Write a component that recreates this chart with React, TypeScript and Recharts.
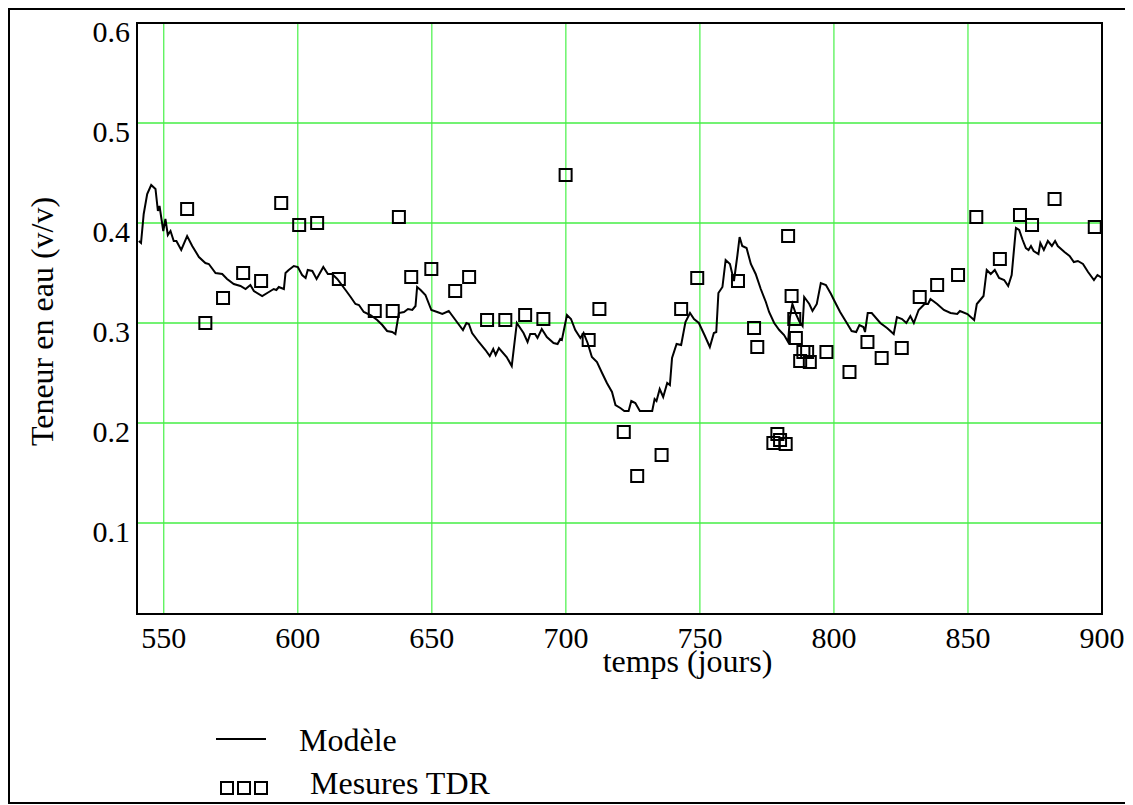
import React from "react";
import {
  ComposedChart,
  Line,
  Scatter,
  XAxis,
  YAxis,
  CartesianGrid,
  ReferenceArea,
  Label,
} from "recharts";

const modelDays = [
  540.7, 541.5, 542.5, 543.8, 545.3, 546.9, 547.8, 548.4, 549.8, 550.6, 551.5, 552.5, 553.7, 554.7, 556.5,
  558.7, 560.6, 563.1, 565.5, 566.8, 569.3, 571.8, 573.6, 576.1, 578.6, 580.5, 582.3, 583.6, 586.7, 589.2,
  591.0, 592.0, 592.9, 594.8, 595.4, 596.6, 598.5, 600.0, 601.6, 602.9, 603.7, 605.4, 607.0, 609.5, 611.2,
  612.8, 614.7, 617.8, 619.7, 621.5, 622.8, 624.6, 627.1, 629.6, 631.5, 633.3, 635.2, 636.4, 637.7, 639.6,
  641.1, 642.7, 643.9, 644.5, 645.8, 647.6, 649.8, 652.0, 653.9, 656.3, 658.8, 661.6, 662.9, 663.8, 665.0,
  667.5, 670.0, 671.6, 672.9, 673.8, 675.0, 677.9, 679.8, 681.7, 684.2, 685.7, 686.7, 688.5, 689.4, 691.0,
  692.9, 695.4, 696.9, 697.9, 698.5, 700.4, 701.9, 703.5, 705.4, 706.6, 708.1, 709.7, 711.6, 713.5, 715.3,
  717.2, 718.5, 720.3, 721.8, 723.4, 724.4, 725.9, 727.6, 732.2, 733.1, 733.8, 735.0, 736.3, 737.8, 738.8,
  739.6, 741.3, 743.0, 744.6, 746.3, 747.8, 749.6, 751.7, 753.7, 755.2, 756.1, 756.9, 758.4, 759.6, 761.2,
  762.7, 764.0, 764.8, 765.8, 767.4, 769.0, 770.8, 772.7, 774.6, 775.8, 777.7, 779.6, 781.4, 782.9, 783.6,
  784.5, 785.8, 787.0, 788.3, 788.9, 790.8, 792.0, 793.6, 795.1, 797.0, 798.9, 800.0, 802.3, 804.8, 806.6,
  808.3, 809.5, 811.0, 811.6, 812.6, 814.1, 817.3, 819.8, 822.3, 823.5, 825.4, 827.0, 828.5, 829.8, 831.6,
  833.8, 835.1, 836.0, 838.5, 841.0, 843.5, 846.0, 847.0, 849.8, 852.3, 853.3, 855.8, 857.0, 858.5, 860.0,
  861.6, 863.5, 865.0, 866.3, 867.9, 869.1, 870.4, 871.6, 872.6, 873.5, 874.5, 876.3, 877.0, 878.3, 879.8,
  881.3, 882.5, 883.5, 886.0, 887.9, 889.5, 891.0, 892.9, 894.8, 897.0, 898.3, 900.0,
];

const modelValues = [
  0.382, 0.38, 0.409, 0.429, 0.438, 0.434, 0.412, 0.417, 0.392, 0.404, 0.388, 0.392, 0.382, 0.382, 0.373,
  0.387, 0.377, 0.366, 0.36, 0.359, 0.35, 0.349, 0.344, 0.339, 0.337, 0.334, 0.338, 0.332, 0.327, 0.331,
  0.334, 0.333, 0.336, 0.334, 0.35, 0.353, 0.357, 0.356, 0.348, 0.345, 0.353, 0.352, 0.344, 0.356, 0.349,
  0.349, 0.344, 0.333, 0.326, 0.319, 0.318, 0.311, 0.308, 0.303, 0.298, 0.292, 0.291, 0.289, 0.31, 0.311,
  0.314, 0.313, 0.317, 0.336, 0.333, 0.328, 0.313, 0.311, 0.309, 0.312, 0.303, 0.293, 0.3, 0.299, 0.29,
  0.281, 0.273, 0.267, 0.274, 0.268, 0.275, 0.266, 0.257, 0.3, 0.29, 0.281, 0.289, 0.289, 0.285, 0.294,
  0.286, 0.28, 0.279, 0.284, 0.283, 0.308, 0.304, 0.293, 0.285, 0.29, 0.28, 0.266, 0.261, 0.25, 0.24,
  0.231, 0.218, 0.215, 0.212, 0.212, 0.222, 0.22, 0.212, 0.212, 0.224, 0.222, 0.234, 0.226, 0.24, 0.238,
  0.265, 0.279, 0.278, 0.301, 0.31, 0.304, 0.3, 0.288, 0.276, 0.29, 0.291, 0.33, 0.336, 0.363, 0.359,
  0.342, 0.368, 0.386, 0.377, 0.375, 0.359, 0.349, 0.334, 0.321, 0.311, 0.3, 0.293, 0.288, 0.281, 0.306,
  0.319, 0.309, 0.302, 0.297, 0.326, 0.319, 0.312, 0.319, 0.34, 0.338, 0.329, 0.323, 0.311, 0.3, 0.292,
  0.291, 0.298, 0.296, 0.291, 0.31, 0.31, 0.3, 0.295, 0.289, 0.306, 0.304, 0.3, 0.307, 0.3, 0.313,
  0.319, 0.319, 0.324, 0.319, 0.313, 0.31, 0.309, 0.312, 0.309, 0.303, 0.319, 0.327, 0.353, 0.349, 0.353,
  0.345, 0.343, 0.337, 0.348, 0.395, 0.393, 0.383, 0.375, 0.373, 0.377, 0.372, 0.369, 0.38, 0.373, 0.382,
  0.377, 0.382, 0.377, 0.371, 0.367, 0.361, 0.362, 0.359, 0.351, 0.343, 0.348, 0.345,
];

const measureDays = [
  558.7, 565.5, 572.1, 579.6, 586.3, 593.8, 600.5, 607.2, 615.3, 628.7, 635.4, 637.7, 642.3, 649.8, 658.7,
  663.9, 670.6, 677.4, 684.8, 691.6, 699.9, 708.5, 712.5, 721.6, 726.6, 735.7, 743.0, 749.0, 764.2, 770.2,
  771.4, 777.4, 778.9, 779.9, 782.0, 782.9, 784.2, 785.2, 785.8, 787.4, 788.6, 790.0, 791.0, 797.2, 805.8,
  812.5, 817.8, 825.3, 832.0, 838.5, 846.3, 853.1, 861.9, 869.4, 873.9, 882.3, 897.3,
];

const measureValues = [
  0.414, 0.3, 0.325, 0.35, 0.342, 0.42, 0.398, 0.4, 0.344, 0.312, 0.312, 0.406, 0.346, 0.354, 0.332,
  0.346, 0.303, 0.303, 0.308, 0.304, 0.448, 0.283, 0.314, 0.191, 0.147, 0.168, 0.314, 0.345, 0.342, 0.295,
  0.276, 0.18, 0.189, 0.183, 0.179, 0.387, 0.327, 0.304, 0.285, 0.262, 0.271, 0.271, 0.261, 0.271, 0.251,
  0.281, 0.265, 0.275, 0.326, 0.338, 0.348, 0.406, 0.364, 0.408, 0.398, 0.424, 0.396,
];

const xTicks = [550, 600, 650, 700, 750, 800, 850, 900];
const yTicks = [0.1, 0.2, 0.3, 0.4, 0.5, 0.6];
const xDomain: [number, number] = [540, 900];
const yDomain: [number, number] = [0.009, 0.6];

const xTitle = "temps (jours)";
const yTitle = "Teneur en eau (v/v)";
const legendModel = "Modèle";
const legendMeasures = "Mesures TDR";

const modelData = modelDays.map((d, i) => ({ x: d, y: modelValues[i] }));
const measureData = measureDays.map((d, i) => ({ x: d, y: measureValues[i] }));

const FONT = '"Liberation Serif", "Times New Roman", serif';
const serifStyle = { fontFamily: FONT };

const renderXTick = (props: any) => {
  const { x, y, payload } = props;
  return (
    <text
      key={`xt-${payload.value}`}
      x={x}
      y={y + 34}
      textAnchor="middle"
      style={serifStyle}
      fontFamily={FONT}
      fontSize={30}
      fill="#000"
    >
      {payload.value}
    </text>
  );
};

const renderYTick = (props: any) => {
  const { x, y, payload } = props;
  return (
    <text
      key={`yt-${payload.value}`}
      x={x - 7}
      y={y + 19}
      textAnchor="end"
      style={serifStyle}
      fontFamily={FONT}
      fontSize={30}
      fill="#000"
    >
      {payload.value}
    </text>
  );
};

const SquareShape = (props: any) => {
  const { cx, cy } = props;
  if (cx == null || cy == null) return <g />;
  return (
    <rect x={cx - 6} y={cy - 6} width={12} height={12} fill="none" stroke="#000" strokeWidth={2} />
  );
};

const YTitle = (props: any) => {
  const vb = props.viewBox || { x: 47, y: 13, width: 80, height: 591 };
  const cx = vb.x - 4;
  const cy = vb.y + vb.height / 2 + 3;
  return (
    <text
      x={cx}
      y={cy}
      transform={`rotate(-90 ${cx} ${cy})`}
      textAnchor="middle"
      style={serifStyle}
      fontSize={32}
      fill="#000"
    >
      {yTitle}
    </text>
  );
};

const XTitle = (props: any) => {
  const vb = props.viewBox || { x: 127, y: 604, width: 965, height: 60 };
  return (
    <text
      x={vb.x + vb.width / 2 + 68}
      y={vb.y + 58}
      textAnchor="middle"
      style={serifStyle}
      fontSize={32}
      fill="#000"
    >
      {xTitle}
    </text>
  );
};

export default function App() {
  return (
    <div
      style={{
        position: "relative",
        width: 1123,
        height: 796,
        border: "2px solid #000",
        boxSizing: "border-box",
        background: "#fff",
        fontFamily: FONT,
      }}
    >
      <div style={{ position: "absolute", left: 0, top: 0 }}>
        <ComposedChart
          width={1119}
          height={680}
          margin={{ top: 13, right: 27, bottom: 16, left: 47 }}
          style={serifStyle}
        >
          <CartesianGrid
            horizontal={false}
            vertical={true}
            stroke="#22ee22"
            strokeWidth={1}
            verticalValues={xTicks}
          />
          <CartesianGrid
            horizontal={true}
            vertical={false}
            stroke="#44ee44"
            strokeWidth={1.6}
            horizontalValues={yTicks}
          />
          <XAxis
            type="number"
            dataKey="x"
            domain={xDomain}
            ticks={xTicks}
            allowDataOverflow
            axisLine={false}
            tickLine={false}
            tickSize={0}
            tickMargin={0}
            height={60}
            tick={renderXTick}
            interval={0}
          >
            <Label content={<XTitle />} />
          </XAxis>
          <YAxis
            type="number"
            dataKey="y"
            domain={yDomain}
            ticks={yTicks}
            allowDataOverflow
            axisLine={false}
            tickLine={false}
            tickSize={0}
            tickMargin={0}
            width={80}
            tick={renderYTick}
            interval={0}
          >
            <Label content={<YTitle />} />
          </YAxis>
          <ReferenceArea
            x1={xDomain[0]}
            x2={xDomain[1]}
            y1={yDomain[0]}
            y2={yDomain[1]}
            fill="none"
            stroke="#000"
            strokeWidth={2}
            ifOverflow="visible"
          />
          <Line
            data={modelData}
            dataKey="y"
            type="linear"
            stroke="#000"
            strokeWidth={2}
            dot={false}
            activeDot={false}
            isAnimationActive={false}
          />
          <Scatter
            data={measureData}
            dataKey="y"
            shape={<SquareShape />}
            isAnimationActive={false}
          />
        </ComposedChart>
      </div>
      <div style={{ position: "absolute", left: 0, top: 0 }}>
        <svg
          width={1119}
          height={792}
          overflow="visible"
          style={{ position: "absolute", left: 0, top: 0, overflow: "visible" }}
        >
          <line x1={206} y1={729} x2={256} y2={729} stroke="#000" strokeWidth={2} />
          <text x={289} y={741} style={serifStyle} fontSize={32} fill="#000">
            {legendModel}
          </text>
          <rect x={211} y={772} width={12} height={12} fill="none" stroke="#000" strokeWidth={2} />
          <rect x={228} y={772} width={12} height={12} fill="none" stroke="#000" strokeWidth={2} />
          <rect x={245} y={772} width={12} height={12} fill="none" stroke="#000" strokeWidth={2} />
          <text x={300} y={784} style={serifStyle} fontSize={32} fill="#000">
            {legendMeasures}
          </text>
        </svg>
      </div>
    </div>
  );
}
